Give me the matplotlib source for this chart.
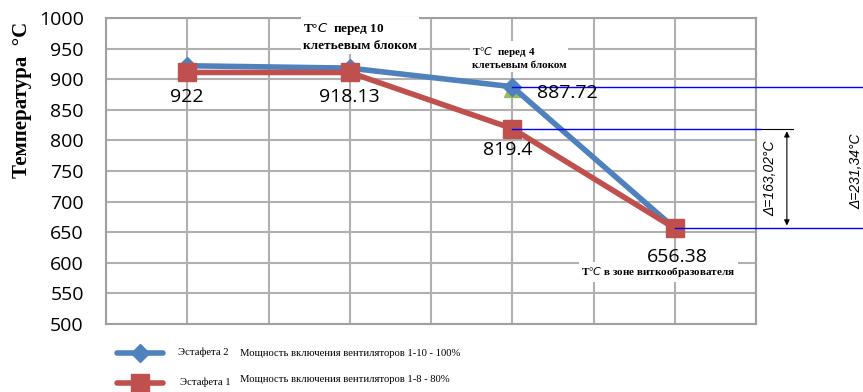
import matplotlib
matplotlib.use("Agg")
import matplotlib.pyplot as plt

x_pos = [1, 3, 5, 7]
series2_name = "Эстафета 2"
series1_name = "Эстафета 1"
series2 = [922, 918.13, 887.72, 656.38]
series1 = [911, 911, 819.4, 656.38]
labels = ["922", "918.13", "887.72", "819.4", "656.38"]
yticks = [500, 550, 600, 650, 700, 750, 800, 850, 900, 950, 1000]

fig = plt.figure(figsize=(8.63, 3.92), dpi=100)
W, H = 863, 392
ax = fig.add_axes([106 / W, 1 - 324 / H, (756 - 106) / W, (324 - 18) / H])
ax.set_xlim(0, 8)
ax.set_ylim(500, 1000)
ax.set_yticks(yticks)
ax.set_xticks(range(0, 9))
ax.set_xticklabels([])
ax.tick_params(axis="x", length=0)
ax.tick_params(axis="y", length=0, labelsize=14, pad=16)
for lab in ax.get_yticklabels():
    lab.set_family(["Open Sans", "DejaVu Sans"])
ax.grid(True, color="#b0b0b0", linewidth=1.5)
for s in ax.spines.values():
    s.set_color("#a0a0a0")
    s.set_linewidth(1.5)
ax.set_axisbelow(True)

blue = "#4F81BD"
red = "#C0504D"
ax.plot(x_pos[2], series2[2] - 3, marker="^", color="#9BBB59", markersize=11, zorder=2)
ax.plot(x_pos, series2, color=blue, linewidth=4, marker="D", markersize=9, zorder=3, clip_on=False)
ax.plot(x_pos, series1, color=red, linewidth=4, marker="s", markersize=13, zorder=4, clip_on=False)

# guide lines (blue) beyond the plot
ax.plot([x_pos[2], 10.2], [series2[2], series2[2]], color="#0000ff", lw=1, clip_on=False, zorder=5)
ax.plot([x_pos[2], 8.05], [series1[2], series1[2]], color="#0000ff", lw=1, clip_on=False, zorder=5)
ax.plot([x_pos[3], 10.2], [series1[3], series1[3]], color="#0000ff", lw=1, clip_on=False, zorder=5)

# dimension arrow
xa = 8.38
ax.plot([7.98, 8.45], [series1[2], series1[2]], color="black", lw=0.8, clip_on=False)
ax.annotate("", xy=(xa, series1[3]), xytext=(xa, series1[2]),
            arrowprops=dict(arrowstyle="<|-|>", color="black", lw=0.8, mutation_scale=8),
            annotation_clip=False)
ax.text(8.17, (series1[2] + series1[3]) / 2, "Δ=163,02°C", rotation=90, ha="center", va="center",
        fontsize=10, style="italic", family=["Liberation Sans", "DejaVu Sans"], clip_on=False)
ax.text(9.24, 750, "Δ=231,34°C", rotation=90, ha="center", va="center",
        fontsize=10, style="italic", family=["Liberation Sans", "DejaVu Sans"], clip_on=False)

# data labels
lf = dict(fontsize=14, family=["Open Sans", "DejaVu Sans"], zorder=6)
ax.text(x_pos[0], 871, labels[0], ha="center", va="center", **lf)
ax.text(x_pos[1], 871, labels[1], ha="center", va="center", **lf)
ax.text(5.3, 878, labels[2], ha="left", va="center", **lf)
ax.text(4.95, 784, labels[3], ha="center", va="center", **lf)
ax.text(7.03, 609, labels[4], ha="center", va="center", **lf)

# annotation boxes
ax.text(2.42, 970, "T°$C$  перед 10\nклетьевым блоком", ha="left", va="center",
        linespacing=1.3, fontsize=9.5, fontweight="bold", family=["Liberation Serif", "DejaVu Serif"],
        bbox=dict(facecolor="white", edgecolor="none", pad=1.5), zorder=7)
ax.text(4.5, 935, "T°$C$  перед 4\nклетьевым блоком", ha="left", va="center",
        fontsize=8, fontweight="bold", family=["Liberation Serif", "DejaVu Serif"],
        bbox=dict(facecolor="white", edgecolor="none", pad=1.5), zorder=7, linespacing=1.3)
ax.text(5.85, 585, "T°$C$ в зоне виткообразователя", ha="left", va="center",
        fontsize=8, fontweight="bold", family=["Liberation Serif", "DejaVu Serif"],
        bbox=dict(facecolor="white", edgecolor="none", pad=2), zorder=7)

# y label
fig.text(22 / W, 1 - 100 / H, "Температура  °С", rotation=90, ha="center", va="center",
         fontsize=15, fontweight="bold", family=["Liberation Serif", "DejaVu Serif"])

# legend (manual)
lax = fig.add_axes([0, 0, 1, 1 - 330 / H])
lax.set_xlim(0, W)
lax.set_ylim(392, 330)
lax.axis("off")
lax.plot([117, 163], [353, 353], color=blue, lw=4, solid_capstyle="round")
lax.plot([140], [353], marker="D", color=blue, markersize=9)
lax.plot([117, 163], [383, 383], color=red, lw=4, solid_capstyle="round")
lax.plot([140], [383], marker="s", color=red, markersize=13)
tf = dict(fontsize=7.7, family=["Liberation Serif", "DejaVu Serif"], va="center", ha="left")
lax.text(178, 352, series2_name, **tf)
lax.text(240, 354, "Мощность включения вентиляторов 1-10 - 100%", **tf)
lax.text(180, 382, series1_name, **tf)
lax.text(240, 379, "Мощность включения вентиляторов 1-8 - 80%", **tf)

fig.savefig("out.png", dpi=100)
